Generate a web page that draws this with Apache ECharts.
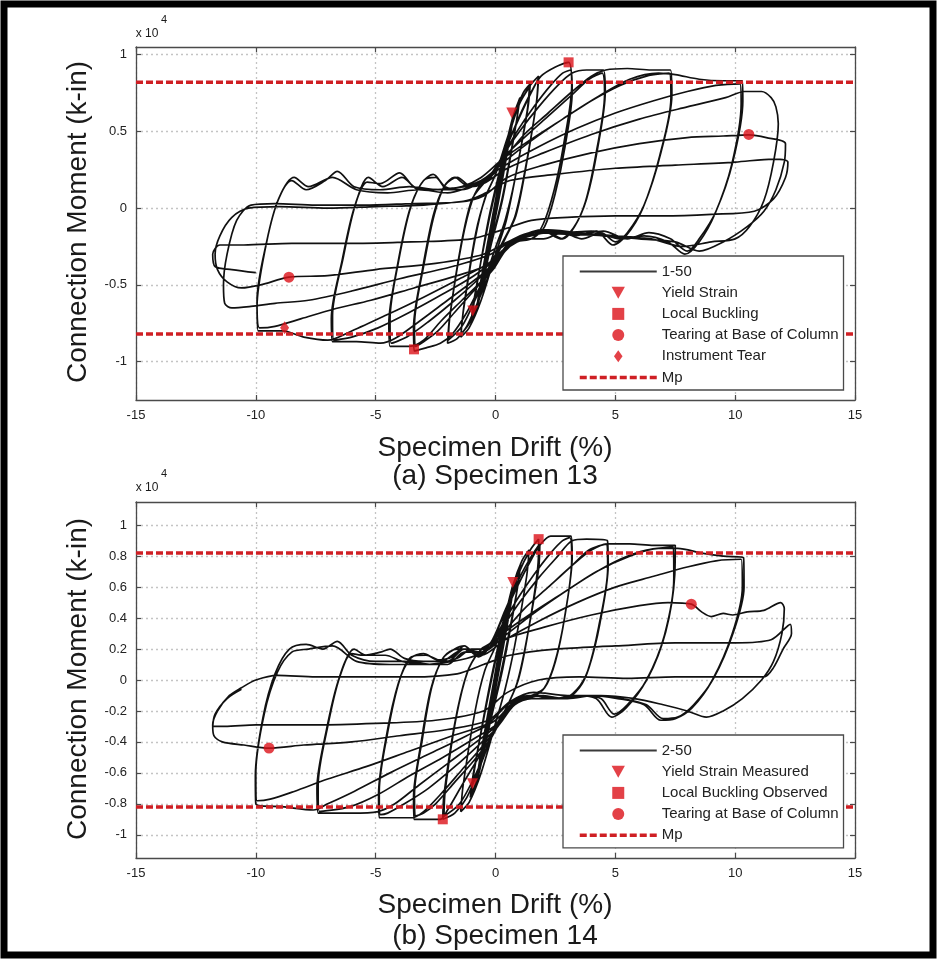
<!DOCTYPE html>
<html><head><meta charset="utf-8">
<script src="https://cdn.jsdelivr.net/npm/echarts@6/dist/echarts.min.js"></script>
<style>html,body{margin:0;padding:0;background:#fff}#c{width:937px;height:959px}</style>
</head><body><div id="c"></div>
<script>
// ---------- tick labels ----------
const xTicks = [-15, -10, -5, 0, 5, 10, 15];
const yTicks13 = [-1, -0.5, 0, 0.5, 1];
const yTicks14 = [-1, -0.8, -0.6, -0.4, -0.2, 0, 0.2, 0.4, 0.6, 0.8, 1];
const mpLevel13 = [0.82, -0.82];
const mpLevel14 = [0.82, -0.82];
const mpDrift = [-15, 15];

// ---------- Specimen 13 hysteresis, cycles as [drift %, moment x1e4 k-in] ----------
const s13c01 = [[0,0],[0.25,0.21],[0.12,0.1],[-0.05,-0.04],[-0.25,-0.21],[-0.12,-0.1],[0.02,0.02]];
const s13c02 = [[0.02,0.02],[0.2,0.18],[0.38,0.33],[0.24,0.2],[0,0],[-0.2,-0.18],[-0.38,-0.34],[-0.24,-0.21],[0,0]];
const s13c03 = [[0,0],[0.3,0.27],[0.5,0.43],[0.36,0.3],[0,0],[-0.3,-0.27],[-0.52,-0.45],[-0.38,-0.32],[0,0]];
const s13c04 = [[0,0],[0.4,0.36],[0.75,0.6],[0.6,0.47],[0.1,0.05],[-0.35,-0.32],[-0.75,-0.62],[-0.6,-0.49],[-0.1,-0.05]];
const s13c05 = [[-0.1,-0.05],[0.35,0.32],[0.76,0.61],[0.6,0.46],[0.12,0.04],[-0.35,-0.33],[-0.76,-0.63],[-0.62,-0.48],[-0.12,-0.05]];
const s13c06 = [[-0.12,-0.05],[0.4,0.38],[0.8,0.62],[1.02,0.72],[0.88,0.57],[0.3,0.08],[-0.2,-0.24],[-0.7,-0.6],[-1.02,-0.75],[-0.9,-0.6],[-0.3,-0.1]];
const s13c07 = [[-0.3,-0.1],[0.2,0.25],[0.7,0.58],[1.0,0.71],[0.86,0.55],[0.3,0.06],[-0.2,-0.25],[-0.72,-0.62],[-1.0,-0.74],[-0.86,-0.58],[-0.3,-0.08]];
const s13c08 = [[-0.3,-0.08],[0.2,0.26],[0.75,0.6],[1.15,0.75],[1.45,0.81],[1.35,0.65],[0.85,0.22],[0.45,-0.08],[0.0,-0.3],[-0.6,-0.6],[-1.1,-0.78],[-1.45,-0.84],[-1.35,-0.68],[-0.85,-0.2],[-0.45,0.06],[0,0.22]];
const s13c09 = [[0,0.22],[0.5,0.45],[1.0,0.68],[1.42,0.79],[1.32,0.63],[0.8,0.18],[0.4,-0.08],[-0.05,-0.28],[-0.55,-0.52],[-1.05,-0.74],[-1.44,-0.82],[-1.32,-0.64],[-0.82,-0.16],[-0.4,0.08],[0,0.22]];
const s13c10 = [[0,0.22],[0.5,0.46],[1.0,0.68],[1.45,0.8],[1.8,0.86],[1.72,0.7],[1.25,0.25],[0.85,-0.05],[0.4,-0.2],[0,-0.33],[-0.6,-0.56],[-1.2,-0.77],[-1.6,-0.85],[-2.0,-0.88],[-1.92,-0.72],[-1.45,-0.25],[-1.0,0.05],[-0.5,0.16],[0,0.24]];
const s13c11 = [[0,0.24],[0.6,0.45],[1.2,0.66],[1.78,0.84],[1.7,0.68],[1.2,0.22],[0.8,-0.06],[0.3,-0.22],[-0.2,-0.36],[-0.8,-0.58],[-1.4,-0.77],[-1.97,-0.86],[-1.9,-0.7],[-1.4,-0.22],[-0.95,0.06],[-0.5,0.18],[-0.1,0.22]];
const s13c12 = [[-0.1,0.22],[0.4,0.38],[1.0,0.6],[1.5,0.76],[1.9,0.86],[2.5,0.92],[3.05,0.95],[3.18,0.8],[2.85,0.42],[2.45,0.12],[2.0,-0.1],[1.5,-0.2],[0.9,-0.2],[0.4,-0.26],[0,-0.36],[-0.6,-0.5],[-1.2,-0.68],[-1.8,-0.82],[-2.3,-0.88],[-2.9,-0.91],[-3.4,-0.93],[-3.42,-0.78],[-3.05,-0.4],[-2.6,-0.05],[-2.15,0.14],[-1.7,0.2],[-1.2,0.15],[-0.6,0.16],[-0.2,0.22]];
const s13c13 = [[-0.2,0.22],[0.3,0.34],[0.9,0.5],[1.6,0.66],[2.3,0.8],[2.8,0.88],[3.15,0.9],[3.2,0.76],[2.9,0.4],[2.5,0.1],[2.05,-0.12],[1.5,-0.2],[0.9,-0.22],[0.4,-0.28],[-0.1,-0.4],[-0.8,-0.52],[-1.6,-0.66],[-2.4,-0.8],[-3.0,-0.87],[-3.35,-0.9],[-3.38,-0.76],[-3.0,-0.38],[-2.55,-0.04],[-2.1,0.15],[-1.6,0.2],[-1.0,0.14],[-0.5,0.16],[-0.2,0.2]];
const s13c14 = [[-0.2,0.2],[0.3,0.34],[1.0,0.5],[1.8,0.66],[2.6,0.8],[3.2,0.88],[3.8,0.9],[4.5,0.9],[4.58,0.76],[4.25,0.38],[3.8,0.06],[3.3,-0.12],[2.8,-0.2],[2.2,-0.16],[1.5,-0.18],[0.8,-0.22],[0.2,-0.3],[-0.5,-0.46],[-1.4,-0.6],[-2.3,-0.74],[-3.0,-0.86],[-3.6,-0.9],[-4.4,-0.9],[-4.45,-0.75],[-4.1,-0.38],[-3.6,-0.02],[-3.1,0.16],[-2.6,0.22],[-2.1,0.14],[-1.5,0.12],[-0.8,0.16],[-0.3,0.2]];
const s13c15 = [[-0.3,0.2],[0.4,0.34],[1.2,0.46],[2.2,0.6],[3.2,0.74],[3.9,0.84],[4.45,0.88],[4.55,0.74],[4.2,0.36],[3.75,0.04],[3.25,-0.13],[2.7,-0.2],[2.0,-0.15],[1.3,-0.18],[0.6,-0.22],[0.1,-0.32],[-0.7,-0.46],[-1.7,-0.6],[-2.8,-0.74],[-3.7,-0.84],[-4.35,-0.88],[-4.4,-0.72],[-4.05,-0.35],[-3.55,0.0],[-3.0,0.18],[-2.5,0.2],[-2.0,0.12],[-1.4,0.12],[-0.7,0.16],[-0.3,0.2]];
const s13c16 = [[-0.3,0.2],[0.4,0.33],[1.2,0.48],[2.2,0.62],[3.2,0.76],[4.0,0.86],[4.6,0.9],[5.5,0.91],[6.5,0.9],[7.3,0.9],[7.36,0.74],[6.9,0.36],[6.2,0.02],[5.5,-0.16],[5.0,-0.22],[4.4,-0.16],[3.6,-0.2],[2.8,-0.16],[2.0,-0.2],[1.2,-0.2],[0.5,-0.26],[0,-0.36],[-0.8,-0.46],[-2.0,-0.6],[-3.2,-0.74],[-4.2,-0.85],[-4.8,-0.88],[-5.8,-0.87],[-6.8,-0.87],[-6.85,-0.72],[-6.4,-0.34],[-5.9,0.0],[-5.35,0.17],[-4.8,0.16],[-4.0,0.23],[-3.4,0.14],[-2.6,0.12],[-1.8,0.13],[-1.0,0.15],[-0.4,0.2]];
const s13c17 = [[-0.4,0.2],[0.5,0.32],[1.5,0.44],[2.8,0.58],[4.0,0.7],[5.2,0.8],[6.3,0.86],[7.25,0.88],[7.32,0.72],[6.85,0.34],[6.15,0.0],[5.45,-0.18],[4.9,-0.24],[4.2,-0.15],[3.3,-0.18],[2.4,-0.15],[1.5,-0.18],[0.7,-0.22],[0.1,-0.32],[-0.9,-0.44],[-2.2,-0.56],[-3.6,-0.68],[-4.9,-0.78],[-6.0,-0.84],[-6.75,-0.86],[-6.8,-0.7],[-6.35,-0.32],[-5.85,0.02],[-5.3,0.2],[-4.7,0.14],[-3.9,0.2],[-3.2,0.12],[-2.3,0.12],[-1.4,0.14],[-0.6,0.2]];
const s13c18 = [[-0.6,0.2],[0.3,0.32],[1.4,0.44],[2.8,0.58],[4.2,0.72],[5.6,0.84],[6.8,0.88],[7.5,0.87],[8.5,0.84],[9.5,0.83],[10.3,0.83],[10.32,0.7],[9.9,0.3],[9.2,-0.02],[8.5,-0.2],[8.0,-0.28],[7.3,-0.2],[6.4,-0.16],[5.5,-0.2],[4.5,-0.15],[3.4,-0.17],[2.2,-0.15],[1.2,-0.18],[0.4,-0.26],[-0.3,-0.36],[-1.5,-0.46],[-3.0,-0.58],[-4.6,-0.7],[-6.0,-0.8],[-7.0,-0.86],[-8.0,-0.84],[-8.9,-0.8],[-9.9,-0.8],[-9.95,-0.64],[-9.6,-0.26],[-9.1,0.04],[-8.5,0.18],[-7.9,0.12],[-7.1,0.18],[-6.6,0.24],[-5.9,0.14],[-4.8,0.12],[-3.6,0.14],[-2.4,0.12],[-1.3,0.14],[-0.6,0.18]];
const s13c19 = [[-0.6,0.18],[0.4,0.28],[1.8,0.4],[3.4,0.52],[5.0,0.62],[6.6,0.7],[8.0,0.76],[9.2,0.8],[10.2,0.81],[10.25,0.68],[9.85,0.28],[9.15,-0.04],[8.5,-0.22],[7.9,-0.3],[7.2,-0.22],[6.2,-0.18],[5.2,-0.2],[4.0,-0.15],[2.8,-0.16],[1.6,-0.16],[0.6,-0.24],[-0.2,-0.36],[-1.6,-0.44],[-3.4,-0.52],[-5.2,-0.6],[-6.8,-0.66],[-8.1,-0.72],[-9.2,-0.77],[-9.85,-0.78],[-9.95,-0.6],[-9.55,-0.22],[-9.05,0.06],[-8.4,0.2],[-7.8,0.14],[-6.8,0.2],[-5.8,0.12],[-4.5,0.1],[-3.2,0.12],[-2.0,0.1],[-1.0,0.14],[-0.5,0.16]];
const s13c20 = [[-0.5,0.16],[0.5,0.26],[2.0,0.36],[4.0,0.48],[6.0,0.58],[8.0,0.66],[9.6,0.72],[10.4,0.76],[11.1,0.76],[11.5,0.72],[11.7,0.66],[11.8,0.55],[11.6,0.3],[11.2,0.05],[10.6,-0.12],[10.0,-0.2],[9.0,-0.22],[7.8,-0.25],[6.5,-0.2],[5.0,-0.18],[3.5,-0.16],[2.0,-0.14],[0.8,-0.2],[-0.2,-0.3],[-1.8,-0.38],[-4.0,-0.46],[-6.0,-0.54],[-7.8,-0.6],[-9.2,-0.62],[-10.2,-0.64],[-11.0,-0.65],[-11.3,-0.62],[-11.35,-0.5],[-11.2,-0.3],[-10.8,-0.08],[-10.2,0.02],[-9.2,0.03],[-7.5,0.02],[-5.5,0.02],[-3.5,0.03],[-1.5,0.04],[-0.5,0.08]];
const s13c21 = [[-0.5,0.08],[0.5,0.2],[2.0,0.28],[4.0,0.36],[6.0,0.42],[8.0,0.46],[9.5,0.47],[10.57,0.478],[11.3,0.46],[12.1,0.42],[12.05,0.3],[11.7,0.12],[11.2,-0.02],[10.5,-0.12],[9.5,-0.22],[8.5,-0.28],[7.5,-0.22],[6.0,-0.2],[4.5,-0.18],[3.0,-0.17],[1.5,-0.16],[0.5,-0.22],[-0.5,-0.3],[-2.5,-0.36],[-5.0,-0.4],[-7.0,-0.44],[-8.62,-0.45],[-9.8,-0.5],[-10.6,-0.52],[-11.2,-0.48],[-11.6,-0.4],[-11.7,-0.3],[-11.5,-0.18],[-11.0,-0.06],[-10.3,0.0],[-9.0,0.01],[-7.0,0.0],[-5.0,0.01],[-3.0,0.02],[-1.2,0.05],[-0.4,0.1]];
const s13c22 = [[-0.4,0.1],[0.6,0.18],[2.5,0.22],[5.0,0.26],[7.5,0.28],[10.0,0.3],[11.6,0.32],[12.2,0.3],[12.1,0.2],[11.6,0.06],[10.8,-0.02],[9.0,-0.04],[7.0,-0.05],[5.0,-0.05],[3.0,-0.06],[1.5,-0.08],[0.3,-0.14],[-1.0,-0.2],[-3.5,-0.22],[-6.0,-0.23],[-8.5,-0.23],[-10.5,-0.24],[-11.5,-0.24],[-11.8,-0.3],[-11.7,-0.38],[-11.0,-0.4],[-10.0,-0.42]];

// ---------- Specimen 14 hysteresis ----------
const s14c01 = [[0,0],[0.25,0.22],[0.12,0.1],[-0.05,-0.05],[-0.25,-0.22],[-0.12,-0.1],[0.02,0.02]];
const s14c02 = [[0.02,0.02],[0.2,0.18],[0.38,0.34],[0.24,0.2],[0,0],[-0.2,-0.18],[-0.38,-0.34],[-0.24,-0.2],[0,0]];
const s14c03 = [[0,0],[0.3,0.27],[0.52,0.45],[0.38,0.31],[0,0],[-0.3,-0.27],[-0.52,-0.46],[-0.38,-0.32],[0,0]];
const s14c04 = [[0,0],[0.4,0.37],[0.75,0.62],[0.6,0.48],[0.1,0.05],[-0.35,-0.33],[-0.76,-0.63],[-0.6,-0.49],[-0.1,-0.05]];
const s14c05 = [[-0.1,-0.05],[0.35,0.33],[0.78,0.63],[0.62,0.47],[0.12,0.04],[-0.35,-0.34],[-0.78,-0.64],[-0.62,-0.48],[-0.12,-0.05]];
const s14c06 = [[-0.12,-0.05],[0.4,0.4],[0.8,0.64],[1.05,0.75],[0.9,0.58],[0.3,0.1],[-0.2,-0.25],[-0.7,-0.6],[-1.05,-0.76],[-0.92,-0.6],[-0.3,-0.1]];
const s14c07 = [[-0.3,-0.1],[0.2,0.27],[0.7,0.6],[1.02,0.73],[0.88,0.56],[0.3,0.07],[-0.2,-0.26],[-0.72,-0.62],[-1.02,-0.75],[-0.88,-0.58],[-0.3,-0.08]];
const s14c08 = [[-0.3,-0.08],[0.2,0.28],[0.75,0.62],[1.1,0.77],[1.4,0.84],[1.3,0.67],[0.8,0.22],[0.4,-0.06],[0,-0.28],[-0.6,-0.6],[-1.1,-0.79],[-1.45,-0.85],[-1.35,-0.68],[-0.85,-0.2],[-0.45,0.06],[0,0.22]];
const s14c09 = [[0,0.22],[0.5,0.47],[1.0,0.7],[1.45,0.84],[1.8,0.91],[1.78,0.76],[1.35,0.3],[0.95,0.0],[0.45,-0.18],[0,-0.3],[-0.6,-0.54],[-1.2,-0.76],[-1.7,-0.86],[-2.2,-0.9],[-2.15,-0.74],[-1.7,-0.28],[-1.2,0.04],[-0.7,0.18],[-0.2,0.24]];
const s14c10 = [[-0.2,0.24],[0.4,0.45],[1.0,0.66],[1.5,0.8],[1.85,0.88],[1.8,0.72],[1.3,0.26],[0.9,-0.02],[0.4,-0.2],[-0.1,-0.34],[-0.8,-0.6],[-1.5,-0.8],[-2.15,-0.88],[-2.1,-0.72],[-1.65,-0.25],[-1.15,0.06],[-0.6,0.2],[-0.2,0.24]];
const s14c11 = [[-0.2,0.24],[0.3,0.4],[0.9,0.6],[1.5,0.78],[1.9,0.88],[2.3,0.93],[2.8,0.93],[3.15,0.93],[3.2,0.8],[2.9,0.42],[2.5,0.12],[2.05,-0.05],[1.5,-0.1],[0.9,-0.14],[0.4,-0.22],[-0.1,-0.35],[-0.7,-0.5],[-1.4,-0.68],[-2.0,-0.84],[-2.3,-0.9],[-2.9,-0.9],[-3.4,-0.9],[-3.42,-0.76],[-3.1,-0.4],[-2.7,-0.06],[-2.2,0.14],[-1.7,0.2],[-1.3,0.22],[-0.8,0.16],[-0.3,0.22]];
const s14c12 = [[-0.3,0.22],[0.3,0.36],[0.9,0.52],[1.6,0.68],[2.3,0.82],[2.8,0.9],[3.1,0.92],[3.18,0.78],[2.88,0.4],[2.45,0.1],[2.0,-0.06],[1.4,-0.12],[0.8,-0.15],[0.3,-0.24],[-0.2,-0.38],[-0.9,-0.52],[-1.7,-0.66],[-2.5,-0.8],[-3.0,-0.86],[-3.35,-0.88],[-3.38,-0.74],[-3.05,-0.38],[-2.65,-0.04],[-2.15,0.15],[-1.6,0.2],[-1.2,0.2],[-0.7,0.15],[-0.3,0.2]];
const s14c13 = [[-0.3,0.2],[0.3,0.34],[1.0,0.5],[1.8,0.66],[2.6,0.8],[3.2,0.9],[3.8,0.91],[4.67,0.9],[4.7,0.74],[4.35,0.36],[3.9,0.08],[3.5,-0.05],[2.9,-0.12],[2.2,-0.12],[1.5,-0.12],[0.8,-0.16],[0.2,-0.28],[-0.5,-0.42],[-1.4,-0.58],[-2.3,-0.74],[-3.0,-0.85],[-3.5,-0.89],[-4.2,-0.89],[-4.85,-0.89],[-4.88,-0.74],[-4.55,-0.36],[-4.05,-0.02],[-3.55,0.14],[-3.0,0.17],[-2.4,0.13],[-1.8,0.15],[-1.3,0.22],[-0.8,0.16],[-0.3,0.2]];
const s14c14 = [[-0.3,0.2],[0.4,0.32],[1.2,0.46],[2.2,0.6],[3.2,0.74],[3.9,0.84],[4.62,0.88],[4.68,0.72],[4.3,0.34],[3.85,0.06],[3.4,-0.06],[2.8,-0.12],[2.0,-0.1],[1.3,-0.12],[0.6,-0.17],[0.1,-0.3],[-0.7,-0.42],[-1.7,-0.56],[-2.8,-0.7],[-3.8,-0.8],[-4.5,-0.86],[-4.8,-0.87],[-4.85,-0.72],[-4.5,-0.34],[-4.0,0.0],[-3.5,0.15],[-2.9,0.16],[-2.2,0.12],[-1.6,0.14],[-1.0,0.2],[-0.4,0.2]];
const s14c15 = [[-0.4,0.2],[0.4,0.32],[1.2,0.46],[2.2,0.6],[3.2,0.74],[4.0,0.84],[4.7,0.88],[5.6,0.88],[6.6,0.87],[7.5,0.87],[7.48,0.68],[7.1,0.31],[6.35,0.01],[5.5,-0.16],[4.95,-0.22],[4.4,-0.12],[3.6,-0.1],[2.8,-0.12],[2.0,-0.1],[1.2,-0.12],[0.5,-0.18],[0,-0.3],[-0.8,-0.4],[-2.0,-0.54],[-3.2,-0.68],[-4.2,-0.8],[-4.9,-0.85],[-6.0,-0.86],[-7.4,-0.86],[-7.45,-0.7],[-7.05,-0.32],[-6.55,0.0],[-6.0,0.17],[-5.5,0.16],[-4.8,0.18],[-4.4,0.2],[-3.8,0.14],[-3.0,0.12],[-2.0,0.12],[-1.3,0.2],[-0.6,0.18]];
const s14c16 = [[-0.6,0.18],[0.5,0.3],[1.5,0.42],[2.8,0.56],[4.0,0.68],[5.2,0.78],[6.3,0.84],[7.42,0.86],[7.44,0.66],[7.05,0.29],[6.3,0.0],[5.45,-0.18],[4.85,-0.24],[4.2,-0.12],[3.3,-0.1],[2.4,-0.12],[1.5,-0.1],[0.7,-0.16],[0.1,-0.28],[-0.9,-0.38],[-2.2,-0.5],[-3.6,-0.62],[-4.9,-0.74],[-6.1,-0.82],[-7.35,-0.85],[-7.4,-0.68],[-7.0,-0.3],[-6.5,0.02],[-5.9,0.2],[-5.4,0.16],[-4.6,0.16],[-3.9,0.12],[-3.0,0.1],[-2.0,0.1],[-1.3,0.18],[-0.6,0.18]];
const s14c17 = [[-0.6,0.18],[0.3,0.3],[1.4,0.42],[2.8,0.56],[4.2,0.7],[5.6,0.8],[6.8,0.85],[7.6,0.85],[8.6,0.82],[9.5,0.8],[10.35,0.79],[10.37,0.6],[9.93,0.31],[9.1,0.01],[8.27,-0.16],[7.6,-0.24],[7.0,-0.25],[6.3,-0.16],[5.3,-0.12],[4.2,-0.1],[3.0,-0.12],[1.8,-0.1],[0.8,-0.14],[0,-0.26],[-1.2,-0.36],[-2.8,-0.48],[-4.4,-0.6],[-5.9,-0.72],[-7.0,-0.8],[-7.6,-0.84],[-8.8,-0.82],[-10.0,-0.8],[-10.02,-0.62],[-9.7,-0.24],[-9.2,0.04],[-8.6,0.2],[-7.9,0.23],[-7.2,0.2],[-6.6,0.25],[-6.0,0.16],[-5.0,0.12],[-3.8,0.12],[-2.5,0.1],[-1.3,0.2],[-0.6,0.16]];
const s14c18 = [[-0.6,0.16],[0.4,0.26],[1.8,0.38],[3.4,0.5],[5.0,0.6],[6.6,0.67],[8.0,0.73],[9.2,0.77],[10.25,0.78],[10.3,0.6],[9.88,0.3],[9.05,0.0],[8.2,-0.18],[7.5,-0.25],[6.9,-0.26],[6.2,-0.16],[5.1,-0.12],[3.9,-0.1],[2.6,-0.12],[1.4,-0.1],[0.5,-0.16],[-0.3,-0.28],[-1.8,-0.36],[-3.6,-0.46],[-5.4,-0.56],[-7.0,-0.64],[-8.4,-0.72],[-9.4,-0.77],[-9.95,-0.78],[-10.0,-0.6],[-9.65,-0.22],[-9.1,0.05],[-8.5,0.18],[-7.8,0.2],[-6.8,0.22],[-5.8,0.12],[-4.4,0.1],[-3.0,0.1],[-1.8,0.12],[-0.8,0.16]];
const s14c19 = [[-0.8,0.16],[0.3,0.26],[2.0,0.34],[4.0,0.42],[6.0,0.48],[7.2,0.5],[8.17,0.49],[8.6,0.44],[9.0,0.41],[9.5,0.43],[9.9,0.42],[10.5,0.44],[11.2,0.45],[11.9,0.5],[12.05,0.46],[11.95,0.3],[11.6,0.12],[11.1,0.0],[10.3,-0.12],[9.5,-0.2],[8.8,-0.24],[8.0,-0.2],[7.0,-0.16],[5.8,-0.12],[4.4,-0.1],[3.0,-0.1],[1.6,-0.08],[0.6,-0.14],[-0.3,-0.26],[-2.0,-0.32],[-4.0,-0.36],[-6.0,-0.4],[-8.0,-0.42],[-9.45,-0.44],[-10.5,-0.42],[-11.4,-0.4],[-11.75,-0.36],[-11.8,-0.29],[-11.6,-0.2],[-11.1,-0.1],[-10.6,-0.05],[-10.0,0.0],[-9.1,0.03],[-7.5,0.02],[-5.5,0.02],[-3.5,0.02],[-1.6,0.04],[-0.5,0.1]];
const s14c20 = [[-0.5,0.1],[0.6,0.16],[2.5,0.2],[5.0,0.22],[7.5,0.24],[10.0,0.24],[11.5,0.26],[12.3,0.36],[12.35,0.3],[12.0,0.2],[11.6,0.08],[11.2,0.02],[9.5,0.02],[7.5,0.02],[5.5,0.01],[3.5,0.02],[1.8,0.0],[0.5,-0.08],[-0.5,-0.2],[-2.5,-0.26],[-5.0,-0.28],[-7.5,-0.29],[-10.0,-0.29],[-11.3,-0.3],[-11.8,-0.3],[-11.7,-0.22],[-11.2,-0.12],[-10.6,-0.06]];

// ---------- event markers ----------
const yield13 = [[0.68, 0.62], [-0.95, -0.67]];
const buckling13 = [[3.05, 0.95], [-3.4, -0.92]];
const tearing13 = [[10.57, 0.48], [-8.62, -0.45]];
const instrument13 = [[-8.8, -0.78]];
const yield14 = [[0.72, 0.63], [-0.96, -0.67]];
const buckling14 = [[1.8, 0.91], [-2.2, -0.9]];
const tearing14 = [[8.17, 0.49], [-9.45, -0.44]];

const s13Cycles = [s13c01,s13c02,s13c03,s13c04,s13c05,s13c06,s13c07,s13c08,s13c09,s13c10,s13c11,s13c12,s13c13,s13c14,s13c15,s13c16,s13c17,s13c18,s13c19,s13c20,s13c21,s13c22];
const s14Cycles = [s14c01,s14c02,s14c03,s14c04,s14c05,s14c06,s14c07,s14c08,s14c09,s14c10,s14c11,s14c12,s14c13,s14c14,s14c15,s14c16,s14c17,s14c18,s14c19,s14c20];
function joinCycles(cs){ const out=[]; cs.forEach((c,i)=>{ (i===0?c:c.slice(1)).forEach(p=>out.push(p)); }); return out; }

const FONT = 'Liberation Sans, Arial, Helvetica, sans-serif';
const RED = '#dc1219';
const MPRED = '#cf1f24';
const TRI_DOWN = 'path://M0,0 L10,0 L5,9 Z';
const SQUARE = 'path://M0,0 L10,0 L10,10 L0,10 Z';
const DIAMOND = 'path://M5,0 L10,7 L5,14 L0,7 Z';

function axesFor(g, yMin, yMax, yT){
  const base = {gridIndex:g, type:'value'};
  const line = {show:true, onZero:false, lineStyle:{color:'#4a4a4a', width:1.3}};
  const tick = {show:true, inside:true, length:5, lineStyle:{color:'#4a4a4a', width:1.2}};
  const lbl = {color:'#222', fontSize:13, fontFamily:FONT};
  const grid = {show:true, lineStyle:{color:'#c4c4c4', width:1.3, type:[2,3]}};
  return {
    x:[
      Object.assign({}, base, {min:-15, max:15, interval:5, position:'bottom', axisLine:line, axisTick:tick,
        axisLabel:Object.assign({margin:9, customValues:xTicks}, lbl), splitLine:grid}),
      Object.assign({}, base, {min:-15, max:15, interval:5, position:'top', axisLine:line, axisTick:tick,
        axisLabel:{show:false}, splitLine:{show:false}})
    ],
    y:[
      Object.assign({}, base, {min:yMin, max:yMax, position:'left', axisLine:line,
        axisTick:Object.assign({customValues:yT}, tick),
        axisLabel:Object.assign({margin:9, customValues:yT}, lbl), splitLine:grid}),
      Object.assign({}, base, {min:yMin, max:yMax, position:'right', axisLine:line,
        axisTick:Object.assign({customValues:yT}, tick), axisLabel:{show:false}, splitLine:{show:false}})
    ]
  };
}
const a13 = axesFor(0, -1.25, 1.05, yTicks13);
const a14 = axesFor(1, -1.15, 1.15, yTicks14);

function seriesFor(xi, yi, name, cycles, marks){
  const arr = [{type:'line', name:name, xAxisIndex:xi, yAxisIndex:yi, data:joinCycles(cycles),
    symbol:'none', showSymbol:false, smooth:0.3, lineStyle:{color:'#111', width:1.7}, itemStyle:{color:'#111'}, z:2, animation:false}];
  marks.mp.forEach(lv=>{
    arr.push({type:'line', name:'Mp', xAxisIndex:xi, yAxisIndex:yi, data:mpDrift.map(d=>[d, lv]),
      symbol:'none', lineStyle:{color:MPRED, width:3.5, type:[7,3]}, itemStyle:{color:MPRED}, z:3, animation:false});
  });
  marks.pts.forEach(m=>{
    arr.push({type:'scatter', name:m.name, xAxisIndex:xi, yAxisIndex:yi, data:m.data, symbol:m.symbol,
      symbolSize:m.size, itemStyle:{color:RED}, z:4, animation:false});
  });
  return arr;
}

const series = [].concat(
  seriesFor(0, 0, '1-50', s13Cycles, {mp:mpLevel13, pts:[
    {name:'Yield Strain', data:yield13, symbol:TRI_DOWN, size:11},
    {name:'Local Buckling', data:buckling13, symbol:SQUARE, size:10},
    {name:'Tearing at Base of Column', data:tearing13, symbol:'circle', size:11},
    {name:'Instrument Tear', data:instrument13, symbol:DIAMOND, size:[9,13]}]}),
  seriesFor(2, 2, '2-50', s14Cycles, {mp:mpLevel14, pts:[
    {name:'Yield Strain Measured', data:yield14, symbol:TRI_DOWN, size:11},
    {name:'Local Buckling Observed', data:buckling14, symbol:SQUARE, size:10},
    {name:'Tearing at Base of Column', data:tearing14, symbol:'circle', size:11}]})
);

const hideDot = {opacity:0, color:'rgba(0,0,0,0)', borderWidth:0};
function legendAt(top, names){
  return {show:true, orient:'vertical', left:563, top:top, selectedMode:false, symbolKeepAspect:true,
    data:names.map((n,i)=> {
      if (i===0) return {name:n, itemStyle:hideDot, lineStyle:{color:'#3a3a3a', width:2}};
      if (n==='Mp') return {name:n, itemStyle:hideDot, lineStyle:{color:MPRED, width:3.5, type:[7,3]}};
      return {name:n};
    }),
    itemWidth:77, itemHeight:12, itemGap:6.2, padding:[8,5,5,15],
    backgroundColor:'#fff', borderColor:'#4a4a4a', borderWidth:1.3, borderRadius:0,
    textStyle:{fontSize:15, color:'#222', fontFamily:FONT, lineHeight:15}};
}

function txt(x, y, s, size, rot, extra){
  return Object.assign({type:'text', x:x, y:y, rotation:rot||0, z:10,
    style:{text:s, font:size+'px '+FONT, fill:'#1a1a1a', textAlign:'center', textVerticalAlign:'middle'}}, extra||{});
}

const option = {
  backgroundColor:'#fff',
  animation:false,
  grid:[
    {left:136, top:47, width:719, height:353},
    {left:136, top:502, width:719, height:356}
  ],
  xAxis:[a13.x[0], a13.x[1], a14.x[0], a14.x[1]],
  yAxis:[a13.y[0], a13.y[1], a14.y[0], a14.y[1]],
  legend:[
    legendAt(256, ['1-50','Yield Strain','Local Buckling','Tearing at Base of Column','Instrument Tear','Mp']),
    legendAt(735, ['2-50','Yield Strain Measured','Local Buckling Observed','Tearing at Base of Column','Mp'])
  ],
  series: series,
  graphic:[
    {type:'rect', shape:{x:4, y:4, width:929, height:951}, style:{fill:'none', stroke:'#000', lineWidth:7}, z:20},
    txt(78, 222, 'Connection Moment (k-in)', 28, Math.PI/2),
    txt(78, 679, 'Connection Moment (k-in)', 28, Math.PI/2),
    txt(495, 448, 'Specimen Drift (%)', 28),
    txt(495, 905, 'Specimen Drift (%)', 28),
    txt(495, 476, '(a) Specimen 13', 28),
    txt(495, 936, '(b) Specimen 14', 28),
    txt(147, 34, 'x 10', 12),
    txt(164, 20, '4', 11),
    txt(147, 488, 'x 10', 12),
    txt(164, 474, '4', 11)
  ]
};
const chart = echarts.init(document.getElementById('c'), null, {renderer:'canvas'});
chart.setOption(option);
</script>
</body></html>
